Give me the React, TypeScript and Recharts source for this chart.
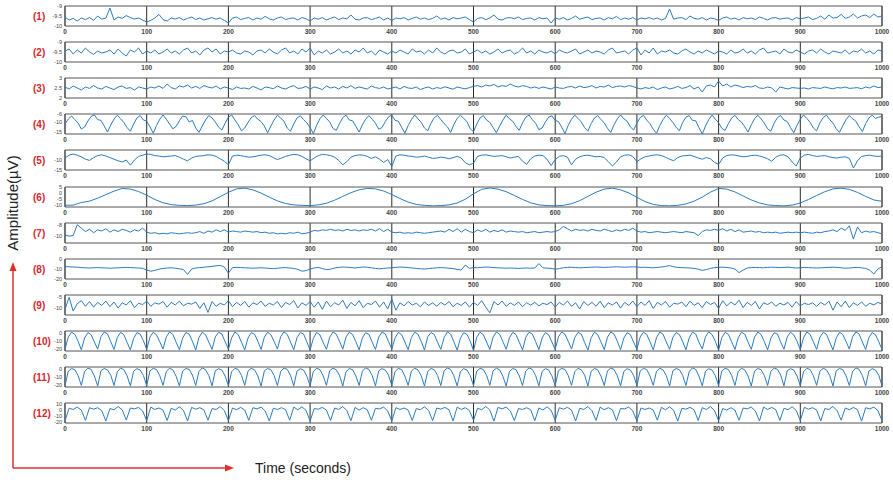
import React from 'react';
import { LineChart, Line, XAxis, YAxis, CartesianGrid, ReferenceArea } from 'recharts';

const TIME_TICKS = [0, 100, 200, 300, 400, 500, 600, 700, 800, 900, 1000];

const P1 = [
-9.55,-9.7,-9.62,-9.75,-9.6,-9.68,-9.58,-9.72,-9.5,-9.66,-9.6,-9.1,-9.7,-9.55,-9.62,-9.48,-9.58,-9.65,-9.6,-9.7,
-9.8,-9.72,-9.6,-9.42,-9.68,-9.75,-9.6,-9.65,-9.58,-9.7,-9.62,-9.55,-9.68,-9.6,-9.7,-9.64,-9.58,-9.66,-9.6,-9.72,
-9.85,-9.6,-9.55,-9.68,-9.62,-9.58,-9.7,-9.6,-9.66,-9.52,-9.64,-9.7,-9.6,-9.55,-9.68,-9.62,-9.6,-9.7,-9.58,-9.64,
-9.75,-9.6,-9.66,-9.58,-9.7,-9.62,-9.55,-9.68,-9.6,-9.64,-9.45,-9.66,-9.7,-9.6,-9.58,-9.68,-9.62,-9.55,-9.7,-9.6,
-9.72,-9.6,-9.64,-9.58,-9.7,-9.62,-9.55,-9.66,-9.6,-9.68,-9.62,-9.5,-9.66,-9.6,-9.7,-9.58,-9.64,-9.6,-9.55,-9.68,
-9.8,-9.62,-9.58,-9.68,-9.6,-9.45,-9.66,-9.7,-9.6,-9.58,-9.64,-9.55,-9.68,-9.62,-9.6,-9.7,-9.58,-9.64,-9.6,-9.85,
-9.6,-9.66,-9.58,-9.7,-9.62,-9.5,-9.66,-9.6,-9.55,-9.68,-9.62,-9.6,-9.7,-9.58,-9.64,-9.52,-9.68,-9.6,-9.66,-9.58,
-9.7,-9.6,-9.64,-9.58,-9.66,-9.6,-9.7,-9.62,-9.15,-9.66,-9.6,-9.58,-9.68,-9.5,-9.62,-9.66,-9.58,-9.7,-9.6,-9.64,
-9.72,-9.6,-9.55,-9.66,-9.6,-9.7,-9.58,-9.64,-9.6,-9.68,-9.55,-9.62,-9.7,-9.6,-9.58,-9.66,-9.62,-9.6,-9.7,-9.58,
-9.64,-9.6,-9.55,-9.68,-9.62,-9.5,-9.66,-9.45,-9.6,-9.58,-9.42,-9.62,-9.55,-9.4,-9.6,-9.5,-9.45,-9.58,-9.4,-9.55,
-9.5];

const P2 = [
-9.45,-9.35,-9.6,-9.4,-9.55,-9.3,-9.5,-9.62,-9.45,-9.55,-9.5,-9.4,-9.6,-9.35,-9.55,-9.7,-9.4,-9.5,-9.3,-9.6,
-9.45,-9.55,-9.4,-9.6,-9.5,-9.35,-9.55,-9.45,-9.6,-9.4,-9.3,-9.55,-9.45,-9.65,-9.4,-9.3,-9.5,-9.35,-9.6,-9.45,
-9.5,-9.4,-9.55,-9.6,-9.45,-9.5,-9.65,-9.45,-9.4,-9.55,-9.35,-9.5,-9.6,-9.4,-9.3,-9.55,-9.45,-9.6,-9.35,-9.5,
-9.3,-9.65,-9.45,-9.55,-9.4,-9.6,-9.5,-9.35,-9.55,-9.45,-9.6,-9.4,-9.5,-9.3,-9.55,-9.45,-9.65,-9.4,-9.5,-9.6,
-9.45,-9.55,-9.4,-9.5,-9.6,-9.35,-9.5,-9.45,-9.6,-9.4,-9.55,-9.3,-9.5,-9.6,-9.45,-9.4,-9.55,-9.5,-9.35,-9.6,
-9.5,-9.4,-9.55,-9.45,-9.6,-9.5,-9.35,-9.55,-9.45,-9.4,-9.6,-9.5,-9.3,-9.55,-9.45,-9.6,-9.4,-9.5,-9.55,-9.45,
-9.6,-9.4,-9.5,-9.55,-9.45,-9.35,-9.6,-9.5,-9.4,-9.55,-9.45,-9.5,-9.6,-9.4,-9.3,-9.55,-9.5,-9.45,-9.6,-9.4,
-9.3,-9.65,-9.4,-9.55,-9.3,-9.6,-9.45,-9.5,-9.4,-9.55,-9.6,-9.45,-9.35,-9.5,-9.6,-9.45,-9.55,-9.4,-9.5,-9.6,
-9.45,-9.5,-9.6,-9.4,-9.55,-9.5,-9.35,-9.55,-9.45,-9.6,-9.4,-9.3,-9.55,-9.5,-9.45,-9.6,-9.35,-9.5,-9.55,-9.4,
-9.5,-9.6,-9.45,-9.4,-9.55,-9.35,-9.5,-9.6,-9.45,-9.5,-9.55,-9.4,-9.6,-9.45,-9.5,-9.35,-9.55,-9.45,-9.6,-9.4,
-9.45];

const P3 = [
2.55,2.45,2.6,2.5,2.4,2.55,2.48,2.62,2.5,2.45,2.58,2.5,2.42,2.55,2.6,2.48,2.52,2.4,2.55,2.5,
2.45,2.55,2.5,2.6,2.48,2.7,2.52,2.45,2.6,2.55,2.65,2.5,2.58,2.48,2.62,2.55,2.5,2.6,2.45,2.55,
2.5,2.42,2.55,2.48,2.5,2.45,2.58,2.5,2.4,2.55,2.52,2.46,2.6,2.5,2.45,2.55,2.62,2.48,2.5,2.58,
2.45,2.55,2.5,2.42,2.6,2.5,2.55,2.45,2.58,2.5,2.62,2.48,2.55,2.5,2.45,2.6,2.52,2.48,2.55,2.45,
2.5,2.55,2.45,2.58,2.5,2.48,2.55,2.42,2.5,2.55,2.45,2.52,2.48,2.56,2.5,2.44,2.55,2.5,2.46,2.52,
2.58,2.62,2.55,2.65,2.6,2.68,2.55,2.62,2.58,2.7,2.6,2.55,2.62,2.58,2.5,2.55,2.48,2.55,2.5,2.45,
2.55,2.5,2.48,2.55,2.58,2.5,2.6,2.52,2.55,2.62,2.5,2.58,2.55,2.65,2.52,2.58,2.6,2.55,2.62,2.58,
2.5,2.45,2.52,2.48,2.55,2.42,2.5,2.55,2.45,2.5,2.58,2.48,2.52,2.62,2.45,2.55,2.3,2.6,2.65,2.55,
2.85,2.6,2.7,2.55,2.65,2.6,2.52,2.58,2.55,2.62,2.5,2.48,2.55,2.5,2.3,2.55,2.5,2.45,2.52,2.5,
2.48,2.5,2.45,2.52,2.5,2.48,2.55,2.5,2.46,2.52,2.5,2.55,2.48,2.5,2.52,2.46,2.55,2.5,2.6,2.52,
2.55];

const P4 = [
-11,-8.5,-7,-8.8,-10.5,-13.5,-12.5,
-9.5,-7.2,-6.5,-8.8,-9.2,-12,-15,
-11.5,-8.5,-6.6,-8.4,-10.2,-12.8,-14.6,
-11,-8,-6.8,-9,-9.6,-12.4,-15.6,
-11.8,-8.6,-6.5,-8.6,-11,-13.4,-12.2,
-9.4,-7,-7.4,-10,-9.2,-13,-15.2,
-12,-9,-6.8,-8,-10,-12.6,-14,
-10.6,-7.6,-6.5,-9,-11.4,-14.4,-13,
-10.2,-7.8,-6.8,-8.6,-9.8,-12,-15.4,
-12,-9,-6.6,-8,-9.6,-13,-14.6,
-11,-8,-6.9,-8.8,-10.4,-12.8,-15.8,
-11.6,-8.4,-6.5,-8.2,-10,-13.2,-14.2,
-10.8,-7.8,-6.6,-9,-9.4,-12.2,-15,
-11.4,-8.6,-6.8,-8.6,-10.6,-13.6,-12.8,
-9.8,-7.4,-6.6,-9.2,-9.6,-12.6,-15.6,
-11.8,-8.8,-6.5,-8.4,-10.2,-13,-14.4,
-10.6,-7.8,-6.7,-8.8,-10.8,-12.4,-15.2,
-11.2,-8.2,-6.6,-8.2,-9.8,-13.4,-14.8,
-11,-8,-6.8,-9,-10.2,-12.8,-15.4,
-12,-9,-6.6,-8.4,-9.6,-12.2,-14.2,
-10.4,-7.6,-6.5,-8.8,-10.6,-13.8,-13,
-10,-7.6,-6.9,-9.2,-9.8,-12.6,-15.8,
-11.6,-8.6,-6.6,-8.2,-10,-12.8,-14.6,
-10.8,-8,-6.8,-8.8,-10.4,-13.2,-15.2,
-11.4,-8.4,-6.5,-8.4,-9.6,-12.4,-14,
-10.6,-7.8,-6.7,-9,-10.8,-13.6,-15.6,
-11.8,-8.8,-6.6,-8.2,-10.2,-12.6,-14.4,
-10.2,-7.6,-6.8,-9.2,-9.4,-12.8,-16,
-12,-8.8,-6.5,-8.6,-10.4,-13.2,-14.2,
-10.8,-8,-6.7,-8.8,-10,-12.4,-15,
-11.4,-8.4,-6.6,-8.4,-10.6,-13.4,-14.6,
-10.6,-7.8,-6.8,-9,-9.8,-12.8,-15.4,
-11.6,-8.6,-6.5,-8.2,-10.2,-13,-14.4,
-10.4,-7.8,-6.6,-8.8,-10.6,-13.4,-15.2,
-11.8,-8.8,-6.8,-8.4,-9.6,-12.4,-14.8,
-10.8,-8,-6.6,-8.2,-7.6,-7.2];

const P5 = [
-9,-7.6,-7,-7.6,-8.4,-9.6,-10.2,-8.8,-7.8,-7.4,-8,-8.8,-9.6,-10.4,-11,-10,-12.6,-10,-8.2,-7.6,
-7,-7.2,-7.8,-8,-8.4,-8.2,-8,-7.8,-8.6,-9.6,-10.4,-9,-8.2,-8,-7.8,-7.4,-7.6,-8.2,-9.4,-10.6,
-12.4,-8,-7.6,-7.8,-8.2,-8.6,-8.4,-8,-7.6,-7.4,-7.8,-8.8,-9.8,-9,-8.2,-7.6,-7.2,-7.4,-8.2,-9.4,
-10.4,-9,-7.8,-7.2,-7.4,-7.8,-8.6,-10.2,-12.4,-10.8,-8.6,-7.8,-7.4,-7.6,-8.2,-9.2,-8.4,-9.6,-11.2,-9.8,
-13.2,-8,-7.4,-7.6,-8,-8.2,-8.6,-8.4,-8,-8.6,-9.2,-9,-8.6,-8.8,-9.4,-8.8,-8.2,-9,-11.4,-12.4,
-11.6,-8.2,-7.6,-7.4,-7.8,-8.2,-8,-7.8,-8.4,-9,-8.6,-8.2,-10.6,-12.2,-9.4,-8,-7.6,-7.8,-9.6,-12.8,
-9.8,-8.2,-7.8,-8.6,-12.4,-9.6,-8.4,-7.8,-7.6,-8,-8.4,-8.2,-8.8,-10.8,-13,-11,-8.4,-7.6,-7.4,-8.2,
-10.8,-9.4,-8.4,-8,-7.6,-7.4,-7.8,-8.6,-9.6,-10.4,-8.8,-8,-7.8,-7.6,-8.2,-9,-9.6,-8.8,-9.4,-11.2,
-12.2,-9,-7.8,-7.4,-7.6,-8,-8.4,-8.2,-7.8,-7.6,-8,-8.6,-9.4,-10.6,-8.6,-7.6,-7.4,-8.4,-11,-13,
-9,-7.6,-7.2,-7.8,-8.2,-8,-7.8,-8.4,-8.8,-9,-8.6,-8.4,-9.2,-14,-10.4,-8.2,-7.8,-7.6,-8,-8.2,
-8];

const P6 = [
-10.5,-10.4,-8.2,-7,-4.5,-1.5,1.5,3.8,3.2,1.2,
-2,-5.6,-8.4,-10,-10.6,-10.8,-10.4,-9.2,-6.8,-3.2,
0.5,3.4,4,2.6,-0.2,-3.6,-6.8,-9,-10.2,-10.6,
-10.8,-10.2,-8.8,-6.2,-3,0.2,2.6,3.8,3.4,1.6,
-1.4,-4.8,-7.8,-9.8,-10.6,-11,-10.8,-10.2,-8.6,-5.4,
-0.8,3,4.2,3.2,1,-2.2,-5.6,-8.4,-10.2,-10.8,
-11,-10.6,-9.2,-6.6,-3,0.6,3.2,4,2.6,0,
-3.8,-7.4,-9.8,-10.8,-11,-10.6,-9.4,-7,-3.6,0.6,
3.8,3.2,0.8,-2.6,-6,-8.6,-10.2,-10.8,-11,-10.4,
-8.6,-5.6,-2.2,1,3.4,4,3,0.4,-3,-6,
-7.2];

const P7 = [
-9.8,-10,-9.9,-8,-8.6,-9.2,-8.8,-9.4,-8.9,-9.1,-8.7,-9.3,-8.9,-9.2,-8.8,-9,-9.3,-8.9,-9.1,-8.6,
-9.3,-9.5,-9.4,-9.6,-9.5,-9.6,-9.4,-9.5,-9.6,-9.5,-9.4,-9.5,-9.4,-9.2,-9.5,-9.1,-9.3,-8.9,-9.2,-8.9,
-9.3,-9.1,-9.2,-9.3,-9.1,-9.2,-9.3,-9.2,-9.4,-9.3,-9.5,-9.4,-9.6,-9.5,-9.6,-9.4,-9.5,-9.3,-9.6,-9.5,
-9.3,-9,-9.1,-8.9,-9,-8.8,-9,-8.9,-9.1,-8.8,-9,-8.9,-9.1,-8.9,-9,-8.8,-9.1,-8.7,-9.2,-8.8,
-9.3,-9.4,-9.3,-9.5,-9.4,-9.5,-9.3,-9.4,-9.5,-9.4,-9.3,-9.2,-9.1,-9.3,-8.8,-9.2,-8.7,-9.3,-8.8,-9.2,
-9.4,-8.9,-9.2,-8.8,-9.3,-9,-9.2,-8.9,-9.3,-9.1,-9.2,-9.3,-9.2,-9.4,-9.3,-9.2,-9.4,-9.3,-9.2,-9.3,
-9.2,-8.9,-8.3,-8.7,-9.1,-8.8,-9,-8.9,-9.1,-8.8,-9,-9.1,-8.8,-9,-9.2,-8.9,-9.1,-8.8,-9,-8.6,
-9.1,-9.3,-9.2,-9.4,-9.3,-9.2,-9.3,-9.4,-9.3,-9.2,-9.3,-9.4,-9.2,-9.3,-9.4,-9.9,-9.2,-8.9,-9,-8.8,
-9,-8.7,-9.1,-8.8,-9.2,-8.9,-9.3,-9.2,-9.1,-9.3,-9.2,-9.4,-9.3,-9.4,-9.3,-9.5,-9.4,-9.3,-9.4,-9.3,
-9.4,-9.3,-9.4,-9.5,-9.3,-9.4,-9.2,-9.1,-8.9,-9.2,-8.6,-9,-8.2,-10.5,-8.4,-9.4,-9.1,-9.3,-9.2,-9.4,
-9.6];

const P8 = [
-7.6,-7.8,-8,-8.2,-8.6,-8.8,-9,-8.8,-8.6,-8.8,-9,-9.2,-9,-8.8,-8.6,-8.4,-8.6,-8.8,-9,-9.4,
-11,-12.2,-11.4,-10.2,-9.4,-9,-8.8,-9.2,-9.8,-10.6,-15.4,-10,-9,-8.6,-8.2,-7.8,-7.4,-6.8,-6.4,-8,
-14.2,-8.6,-8.4,-8.6,-8.8,-9,-9.2,-9,-8.8,-9,-9.4,-9.6,-9.2,-8.8,-8.6,-9,-9.4,-10.4,-12.2,-11.6,
-10,-9,-8.4,-9.6,-10.6,-10.2,-9,-8.4,-8,-8.2,-8.6,-9,-8.4,-8,-8.2,-8.8,-9.4,-9.8,-9.4,-9,
-8.8,-8.4,-8,-8.2,-8.6,-9,-9.4,-9.8,-10,-9.6,-9.2,-8.8,-8.6,-8.8,-9.2,-9.6,-10.4,-11,-6,-9.4,
-8.6,-8.8,-8.4,-8,-8.2,-8.6,-8.8,-9,-9.2,-9,-9.2,-9.4,-9.2,-9,-9.2,-9,-4.6,-8.8,-9.2,-9.4,
-10.2,-9.6,-8.8,-8.4,-8.2,-8.6,-8.8,-8.6,-8.4,-8.2,-8,-8.2,-8.4,-8.2,-8,-7.8,-8,-8.2,-8,-7.8,
-8,-8.4,-8.2,-8.6,-8.8,-8.4,-8,-7.4,-6.6,-7.8,-8.4,-8.6,-8.8,-9,-9.4,-10.2,-11.4,-10.6,-9.4,-8.6,
-8.4,-8.2,-8.4,-9,-10,-13.6,-11,-9,-8.6,-8.4,-8.6,-8.8,-8.4,-8.2,-8.4,-8.6,-8.4,-8.2,-8.6,-9,
-8.8,-8.4,-8.6,-8.8,-9,-8.8,-8.6,-8.4,-8.2,-8.4,-8.8,-9.2,-9,-8.6,-8.4,-8.8,-9.4,-11.2,-15,-10,
-7.8];

const P9 = [
-10.6,-5,-11.4,-8,-6.6,-9.2,-7,-9.6,-7.4,-8.8,-6.8,-9.4,-7.2,-10,-7.6,-8.6,-6.6,-9.8,-7.8,-8.4,
-6.8,-9.2,-7.6,-8.2,-7,-9.6,-7.4,-8.6,-6.8,-9,-7.8,-8.2,-7.2,-10.2,-7.6,-12,-7,-9.2,-7.8,-8.6,
-6.6,-9.4,-7.4,-8.8,-7,-9.6,-7.6,-8.4,-6.8,-9.2,-7.8,-8.6,-7,-9.8,-7.4,-8.4,-6.6,-10,-7.6,-8.8,
-7,-9.6,-7.2,-10.6,-6.8,-9.4,-7.6,-8.6,-6.4,-10.2,-7.4,-9,-6.6,-9.8,-7.8,-8.4,-6.8,-9.6,-7.2,-10.4,
-5.8,-11,-7.6,-9,-7,-8.6,-7.8,-9.4,-7.2,-8.8,-7.6,-9.2,-7.4,-8.6,-7,-9.4,-7.8,-8.8,-7.2,-9.6,
-7.4,-8.8,-6.6,-9.6,-12.2,-7,-8.6,-6.8,-9.2,-7.6,-8.8,-7.2,-9.4,-7.6,-8.6,-7.4,-9,-7.8,-8.4,-7.2,
-9.6,-7.4,-8.6,-6.8,-9.2,-7.6,-10.4,-7,-8.8,-7.4,-9.2,-6.8,-9.8,-7.6,-8.6,-7.2,-10,-7.4,-8.8,-6.8,
-9.4,-7.2,-8.8,-6.6,-10.2,-7.4,-8.6,-7,-9.6,-7.8,-8.2,-7.2,-9.4,-6.8,-8.8,-7.6,-9.8,-7,-8.4,-7.4,
-10.2,-6.6,-9,-7.2,-8.6,-6.4,-9.8,-7.4,-8.8,-7,-10.4,-7.6,-8.4,-7.2,-9.2,-7.8,-8.6,-7.4,-9.6,-7,
-9,-7.8,-8.4,-7.6,-9.2,-7.4,-8.6,-6.8,-11,-7.2,-9.4,-6.8,-9.8,-7.6,-8.8,-7.2,-9.2,-7.8,-8.6,-7.4,
-8.2];

const P10 = [
-20,-5,1,-1.5,-10, -20.5,-6,0.5,-2,-11, -19.8,-4.5,1.2,-1,-10.5, -20.2,-5.5,0.8,-1.8,-11.5, -20.6,-6.5,0.4,-1.2,-9.5,
-20,-5,1,-2.2,-10.8, -19.6,-4.8,1.4,-1.6,-11.2, -20.4,-6,0.6,-1.4,-10.2, -20.8,-5.4,1,-2,-11, -20,-4.6,0.8,-1.2,-10.6,
-19.8,-5.8,1.2,-1.8,-11.4, -20.6,-6.2,0.4,-1.4,-9.8, -20.2,-5,1,-2,-10.4, -19.6,-4.4,1.4,-1.6,-11, -20.4,-5.6,0.6,-1.2,-10.8,
-20.8,-6.4,0.8,-2.2,-11.6, -20,-5.2,1.2,-1.4,-10, -19.8,-4.8,1,-1.8,-10.6, -20.6,-5.8,0.4,-1.6,-11.2, -20.2,-5,1.2,-1,-10.4,
-19.6,-6,0.8,-2,-11, -20.4,-5.4,1,-1.4,-10.2, -20.8,-4.6,0.6,-1.8,-11.4, -20,-5.6,1.4,-1.2,-10.8, -21,-6.2,0.4,-1.6,-10,
-21.4,-5,1,-2,-11, -20.2,-4.8,1.2,-1.4,-10.6, -19.8,-5.8,0.8,-1.8,-11.2, -20.6,-5.2,1,-1.2,-10.4, -20.4,-6,0.6,-2.2,-11,
-20,-4.6,1.4,-1.6,-10.2, -19.6,-5.4,0.8,-1.4,-11.6, -20.8,-5.8,1,-1.8,-10.8, -20.2,-5,1.2,-1.2,-10, -20.4,-6.2,0.4,-2,-11.2,
-19.8,-4.8,1,-1.6,-10.6, -20.6,-5.6,1.2,-1.4,-11, -20,-5.2,0.6,-1.8,-10.4, -20.4,-6,1,-1.2,-11.4, -19.6,-4.6,1.4,-2,-10.2,
-20.8,-5.4,0.8,-1.6,-10.8, -20.2,-5.8,1,-1.4,-11, -20,-5,1.2,-1.8,-10.6, -20.6,-6.2,0.4,-1.2,-11.2, -19.8,-4.8,1,-2.2,-10,
-20.4,-5.6,1.2,-1.6,-10.8, -20,-5.2,0.8,-1.4,-11.4, -20.6,-6,1,-1.8,-10.4, -19.6,-4.6,1.4,-1.2,-11, -20.2,-5.4,0.6,-2,-10.6,
-20];

const P11 = [
-20.5,-2.5,0.5,-0.8,-8, -20,-3,1,-0.4,-8.6, -20.8,-2,0.6,-1,-7.6, -20.2,-3.4,1.2,-0.6,-8.4, -20.6,-2.6,0.4,-1.2,-7.8,
-20.4,-2.2,0.8,-0.6,-8.2, -20,-3,1,-1,-8.8, -20.8,-2.4,0.6,-0.4,-7.4, -20.2,-2.8,1.4,-0.8,-8, -20.6,-2,0.4,-1.2,-8.6,
-20.4,-3.2,0.8,-0.6,-7.8, -20,-2.6,1,-1,-8.4, -20.8,-2.2,0.6,-0.8,-8, -20.2,-3,1.2,-0.4,-7.6, -20.6,-2.4,0.4,-1.2,-8.8,
-20.4,-2.8,0.8,-0.6,-8.2, -20,-2,1,-1,-7.8, -20.8,-3.2,0.6,-0.8,-8.4, -20.2,-2.6,1.4,-0.4,-8, -20.6,-2.2,0.4,-1.2,-7.4,
-20.4,-3,0.8,-0.6,-8.6, -20,-2.4,1,-1,-8.2, -20.8,-2.8,0.6,-0.8,-7.8, -20.2,-2,1.2,-0.4,-8.4, -20.6,-3.2,0.4,-1.2,-8,
-20.4,-2.6,0.8,-0.6,-7.6, -20,-2.2,1,-1,-8.8, -20.8,-3,0.6,-0.8,-8.2, -20.2,-2.4,1.4,-0.4,-7.8, -20.6,-2.8,0.4,-1.2,-8.4,
-20.4,-2,0.8,-0.6,-8, -20,-3.2,1,-1,-7.4, -20.8,-2.6,0.6,-0.8,-8.6, -20.2,-2.2,1.2,-0.4,-8.2, -20.6,-3,0.4,-1.2,-7.8,
-20.4,-2.4,0.8,-0.6,-8.4, -20,-2.8,1,-1,-8, -20.8,-2,0.6,-0.8,-7.6, -20.2,-3.2,1.4,-0.4,-8.8, -20.6,-2.6,0.4,-1.2,-8.2,
-20.4,-2.2,0.8,-0.6,-7.8, -20,-3,1,-1,-8.4, -20.8,-2.4,0.6,-0.8,-8, -20.2,-2.8,1.2,-0.4,-7.4, -20.6,-2,0.4,-1.2,-8.6,
-20.4,-3.2,0.8,-0.6,-8.2, -20,-2.6,1,-1,-7.8, -20.8,-2.2,0.6,-0.8,-8.4, -20.2,-3,1.4,-0.4,-8, -20.6,-2.4,0.4,-1.2,-7.6,
-20.4];

const P12 = [
-18,3,1,5,0, -17.5,4,1.5,4,-1, -18.5,2.5,0.5,6,0.5, -17,3.5,2,4.5,-1.5, -18.2,5,1,3.5,0,
-17.8,3,0,5.5,-0.5, -18.6,4.5,1.5,4,0.5, -17.4,2.5,1,6,-1, -18,3.5,0.5,4.5,0, -17.6,4,2,5,-1.5,
-18.4,3,1,4,0.5, -17.2,5,0.5,5.5,-0.5, -18.8,2.5,1.5,4.5,0, -17.8,3.5,1,6,-1, -18.2,4.5,0,4,0.5,
-17.4,3,2,5,-1.5, -18.6,4,1,3.5,0, -17.6,2.5,0.5,5.5,-0.5, -18,3.5,1.5,4.5,0.5, -18.4,5,1,4,-1,
-17.2,3,0.5,6,0, -18.8,4.5,2,5,-1.5, -17.8,2.5,1,4,0.5, -18.2,3.5,0,5.5,-0.5, -17.4,4,1.5,4.5,0,
-18.6,3,1,6,-1, -17.6,5,0.5,4,0.5, -18,2.5,2,5,-1.5, -18.4,3.5,1,3.5,0, -17.2,4.5,0.5,5.5,-0.5,
-18.8,3,1.5,4.5,0.5, -17.8,4,1,6,-1, -18.2,2.5,0,4,0, -17.4,3.5,2,5,-1.5, -18.6,5,1,4.5,0.5,
-17.6,3,0.5,5.5,-0.5, -18,4.5,1.5,4,0, -18.4,2.5,1,6,-1, -17.2,3.5,0.5,4.5,0.5, -18.8,4,2,5,-1,
-18];

const LABELS = ['(1)', '(2)', '(3)', '(4)', '(5)', '(6)', '(7)', '(8)', '(9)', '(10)', '(11)', '(12)'];
const SERIES = [P1, P2, P3, P4, P5, P6, P7, P8, P9, P10, P11, P12];
const DOMAINS: [number, number][] = [
  [-10, -9], [-10, -9], [2, 3], [-16, -6], [-15, -5], [-12, 5],
  [-11.2, -7.7], [-20, 0], [-13.2, -4], [-22, 2.5], [-22, 2.5], [-22, 12],
];
const Y_TICKS = [
  [-10, -9.5, -9], [-10, -9.5, -9], [2, 2.5, 3], [-15, -10, -6], [-15, -10], [-10, -5, 0, 5],
  [-10, -8], [-20, -10, 0], [-10, -5], [-20, -10, 0], [-20, -10, 0], [-20, -10, 0, 10],
];

const W = 893;
const PLOT_LEFT = 65;
const PLOT_RIGHT = 882;
const BOX_H = 20;
const LINE_COLOR = '#2c7bbf';
const FONT = '"Liberation Sans", Arial, sans-serif';

const boxTop = (i: number) => Math.round(6 + i * 36.1);

function Panel({ index }: { index: number }) {
  const values = SERIES[index];
  const step = 1000 / (values.length - 1);
  const data = values.map((v, i) => ({ t: i * step, v }));
  const domain = DOMAINS[index];
  return (
    <div style={{ position: 'absolute', left: 0, top: boxTop(index) - 2 }}>
      <LineChart width={W} height={2 + BOX_H + 12} data={data} margin={{ top: 2, right: W - PLOT_RIGHT, bottom: 0, left: 0 }}>
        <CartesianGrid horizontal={false} stroke="#2a2a2a" strokeWidth={1} />
        <XAxis
          dataKey="t"
          type="number"
          domain={[0, 1000]}
          ticks={TIME_TICKS}
          interval={0}
          height={12}
          tickLine={false}
          axisLine={false}
          tickSize={0}
          tickMargin={3}
          allowDataOverflow
          tick={{ fontSize: 6.5, fill: '#444', fontFamily: FONT, fontWeight: 'bold' }}
        />
        <YAxis
          type="number"
          domain={domain}
          ticks={Y_TICKS[index]}
          interval={0}
          width={PLOT_LEFT}
          tickLine={false}
          axisLine={false}
          tickSize={0}
          tickMargin={3}
          allowDataOverflow
          tick={{ fontSize: 5.5, fill: '#444', fontFamily: FONT }}
        />
        <ReferenceArea x1={0} x2={1000} y1={domain[0]} y2={domain[1]} fill="none" stroke="#555" strokeWidth={1} />
        <Line dataKey="v" type="linear" stroke={LINE_COLOR} strokeWidth={1} dot={false} isAnimationActive={false} />
      </LineChart>
    </div>
  );
}

export default function App() {
  const red = '#e0302a';
  return (
    <div style={{ position: 'absolute', left: 0, top: 0, width: W, height: 480, background: '#fff', overflow: 'hidden' }}>
      {SERIES.map((_, i) => (
        <Panel key={i} index={i} />
      ))}
      <svg width={W} height={480} style={{ position: 'absolute', left: 0, top: 0, pointerEvents: 'none' }}>
        {LABELS.map((lab, i) => (
          <text key={lab} x={33} y={boxTop(i) + BOX_H / 2} dy="0.35em" fontSize={10} fontWeight="bold" fill="#d8262d" fontFamily={FONT}>
            {lab}
          </text>
        ))}
        <text transform="translate(18,203) rotate(-90)" textAnchor="middle" fontSize={15} fill="#222" fontFamily={FONT}>
          Amplitude(µV)
        </text>
        <line x1={13} y1={468} x2={13} y2={270} stroke={red} strokeWidth={1.5} />
        <polygon points="13,262 9.5,271 16.5,271" fill={red} />
        <line x1={13} y1={468} x2={226} y2={468} stroke={red} strokeWidth={1.5} />
        <polygon points="234,468 225,464.5 225,471.5" fill={red} />
        <text x={255} y={473} fontSize={14} fill="#222" fontFamily={FONT}>
          Time (seconds)
        </text>
      </svg>
    </div>
  );
}
